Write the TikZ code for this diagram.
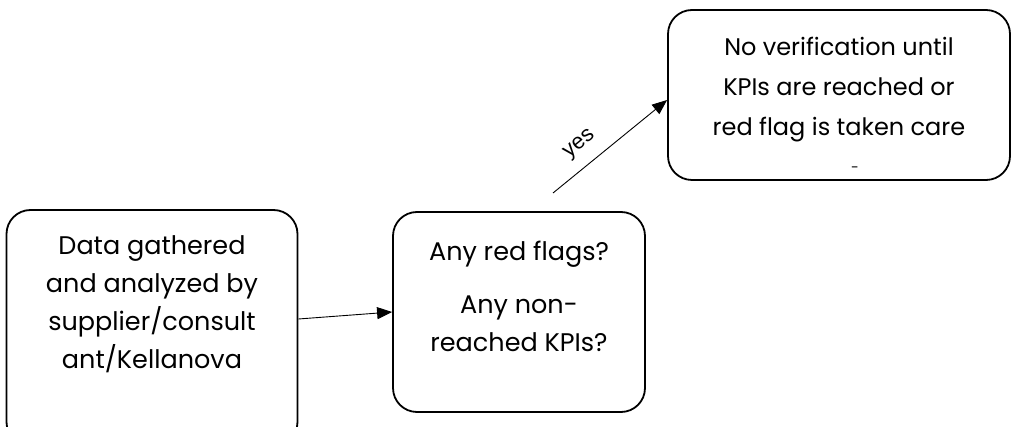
\documentclass[tikz,border=0pt]{standalone}
\usepackage{fontspec}
\setmainfont{Poppins}
\newfontfamily\yesfont{Liberation Sans}
\usetikzlibrary{arrows.meta}

\begin{document}
\begin{tikzpicture}[x=1pt, y=-1pt,
  box/.style={draw=black, line width=1.8pt, rounded corners=24pt, inner sep=0pt},
  boxtext/.style={align=center, inner sep=0pt, font=\fontsize{25.5}{38}\selectfont},
  flow/.style={-{Triangle[length=15pt, width=12pt]}, line width=0.9pt}]
  \useasboundingbox (0,0) rectangle (1013,427);
  \clip (0,0) rectangle (1013,427);

  % boxes
  \node[box, minimum width=291pt, minimum height=236pt] (data) at (152,328) {};
  \node[box, minimum width=252pt, minimum height=200pt] (check) at (519,312) {};
  \node[box, minimum width=342pt, minimum height=170pt] (result) at (839,95) {};

  % texts
  \node[boxtext] (datatext) at (152,304) {Data gathered\\and analyzed by\\supplier/consult\\ant/Kellanova};
  \node[boxtext] (checktop) at (519,254) {Any red flags?};
  \node[boxtext] (checkbot) at (519,324) {Any non-\\reached KPIs?};
  \node[boxtext, font=\fontsize{24}{40}\selectfont] (resulttext) at (839,90) {No verification until\\KPIs are reached or\\red flag is taken care};
  \node[boxtext, font=\fontsize{14}{14}\selectfont] (resultcut) at (855,170) {-};

  % connectors
  \coordinate (yesstart) at (553,193);
  \draw[flow] ([yshift=9pt]data.east) -- (check.west);
  \draw[flow] (yesstart) -- ([yshift=-5pt]result.west)
    node[pos=0.35, above=12pt, sloped, inner sep=0pt, font=\yesfont\fontsize{22}{22}\selectfont] (yes) {yes};
\end{tikzpicture}
\end{document}
